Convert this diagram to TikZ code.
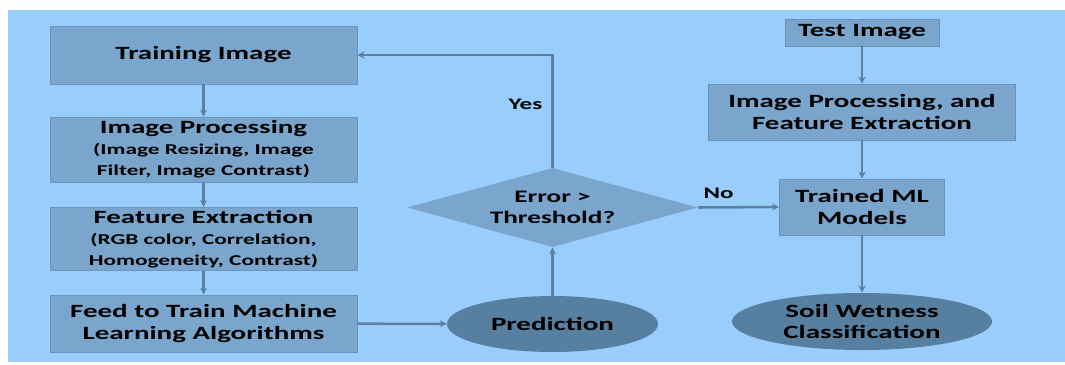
\documentclass[tikz,border=0pt]{standalone}
\usepackage{fontspec}
\setmainfont{Carlito}[FakeStretch=1.55]
\usetikzlibrary{shapes.geometric,arrows.meta}
\definecolor{bgblue}{RGB}{153,206,252}
\definecolor{boxblue}{RGB}{122,166,205}
\definecolor{boxedge}{RGB}{106,148,186}
\definecolor{ovalblue}{RGB}{86,127,160}
\definecolor{linkblue}{RGB}{92,128,162}
\begin{document}
\begin{tikzpicture}[x=0.025cm, y=-0.025cm,
    box/.style={draw=boxedge, fill=boxblue, line width=0.6pt, align=center, inner sep=2pt, font=\bfseries\fontsize{13.3}{15}\selectfont},
    oval/.style={ellipse, fill=ovalblue, align=center, inner sep=0pt, font=\bfseries\fontsize{13.3}{15}\selectfont},
    decision/.style={diamond, fill=boxblue, inner sep=0pt, aspect=3.7, align=center, font=\bfseries\fontsize{12.5}{15}\selectfont},
    link/.style={-{Stealth[length=5pt,width=5pt]}, draw=linkblue, line width=1.8pt},
    tag/.style={font=\bfseries\fontsize{11.5}{13}\selectfont}
]
    \newcommand{\sub}[1]{{\fontsize{10.7}{12.5}\selectfont #1}}
    % page and background
    \useasboundingbox (0,0) rectangle (1065,364);
    \fill[bgblue] (8,10) rectangle (1065,362);

    % training column
    \node[box, minimum width=7.675cm, minimum height=1.45cm] (train) at (203.5,55) {Training Image};
    \node[box, minimum width=7.675cm, minimum height=1.625cm] (improc) at (203.5,149.5) {Image Processing\\ \sub{(Image Resizing, Image}\\ \sub{Filter, Image Contrast)}};
    \node[box, minimum width=7.675cm, minimum height=1.45cm] (featex) at (203.5,239) {Feature Extraction\\ \sub{(RGB color, Correlation,}\\ \sub{Homogeneity, Contrast)}};
    \node[box, minimum width=7.675cm, minimum height=1.425cm] (feed) at (203.5,323.5) {Feed to Train Machine\\Learning Algorithms};

    % middle column
    \node[oval, minimum width=5.275cm, minimum height=1.4cm] (pred) at (552.5,324) {Prediction};
    \node[decision, minimum width=7.275cm, minimum height=1.975cm] (err) at (552.5,207.5) {Error >\\Threshold?};

    % test column
    \node[box, minimum width=3.85cm, minimum height=0.675cm] (test) at (862,32.5) {Test Image};
    \node[box, minimum width=7.675cm, minimum height=1.4cm] (improc2) at (862,112) {Image Processing, and\\Feature Extraction};
    \node[box, minimum width=4.125cm, minimum height=1.4cm] (trained) at (862,207) {Trained ML\\Models};
    \node[oval, minimum width=6.5cm, minimum height=1.425cm] (soil) at (862,321.5) {Soil Wetness\\Classification};

    % arrows
    \draw[link] (train) -- (improc);
    \draw[link] (improc) -- (featex);
    \draw[link] (featex) -- (feed);
    \draw[link] (feed) -- (pred);
    \draw[link] (pred) -- (err);
    \draw[link] (err.north) |- node[tag, pos=0.28, left=3pt] {Yes} (train.east);
    \draw[link] (err.east) -- node[tag, pos=0.25, above=2pt] {No} (trained.west);
    \draw[link] (test) -- (improc2);
    \draw[link] (improc2) -- (trained);
    \draw[link] (trained) -- (soil);
\end{tikzpicture}
\end{document}
